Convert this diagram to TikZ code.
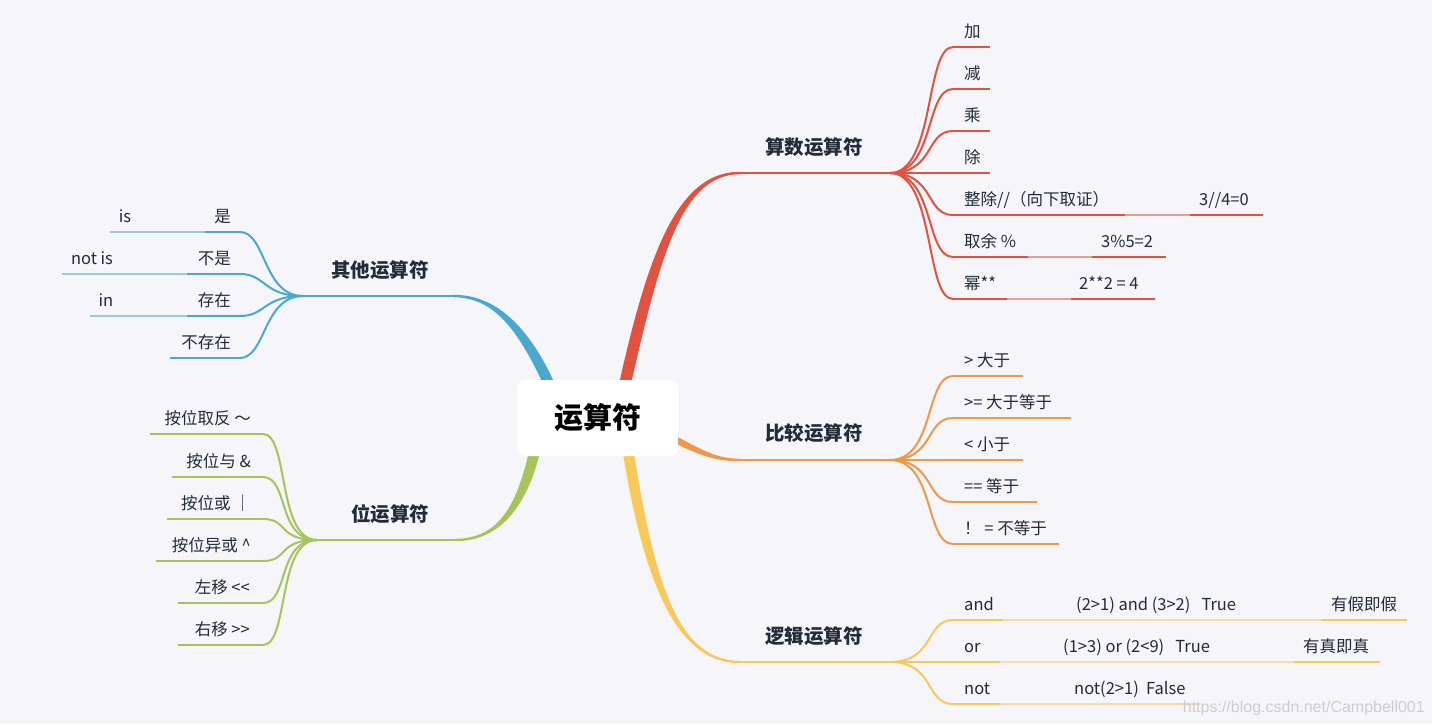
\documentclass[tikz,border=0pt]{standalone}
\usepackage{fontspec}
\setmainfont{Noto Sans CJK SC}
\newfontfamily\wmfont{Liberation Sans}
\definecolor{bg}{RGB}{245,245,250}
\definecolor{cred}{RGB}{226,82,65}
\definecolor{corange}{RGB}{239,153,72}
\definecolor{cyellow}{RGB}{247,201,91}
\definecolor{cblue}{RGB}{74,168,207}
\definecolor{cgreen}{RGB}{166,196,90}
\definecolor{ink}{RGB}{33,43,58}
\definecolor{wmgray}{RGB}{205,205,212}
% right-side child: #1 colour, #2 hub, #3 y of underline, #4 name, #5 end x, #6 text
\newcommand{\mmtwigR}[6]{%
  \coordinate (#4s) at (953,#3);
  \coordinate (#4e) at (#5,#3);
  \draw[#1,twig] (#2) .. controls +(45,0) and +(-28,0) .. (#4s);
  \draw[#1,uline] (#4s) -- (#4e);
  \node[leaf,anchor=base west] (#4t) at (964,#3-10) {#6};
}
% left-side child: #1 colour, #2 hub, #3 y, #4 name, #5 start x of line, #6 text, #7 curve end x, #8 text right x
\newcommand{\mmtwigL}[8]{%
  \coordinate (#4s) at (#7,#3);
  \coordinate (#4e) at (#5,#3);
  \draw[#1,twig] (#2) .. controls +(-40,0) and +(26,0) .. (#4s);
  \draw[#1,uline] (#4s) -- (#4e);
  \node[leaf,anchor=base east] (#4t) at (#8,#3-10) {#6};
}
\begin{document}
\begin{tikzpicture}[x=1pt,y=-1pt,
  leaf/.style={font=\fontsize{16.5}{19}\selectfont, text=ink, inner sep=0pt},
  branchlbl/.style={font=\bfseries\fontsize{19.5}{23}\selectfont, text=ink, inner sep=0pt, anchor=base},
  twig/.style={line width=2pt, line cap=round},
  uline/.style={line width=2.6pt},
  faint/.style={line width=1.8pt, draw opacity=0.55},
  trunk/.style={line width=2.4pt}]
\fill[bg] (0,0) rectangle (1432,724);
\useasboundingbox (0,0) rectangle (1432,724);

% hubs
\coordinate (rh) at (890,173);
\coordinate (oh) at (890,460);
\coordinate (yh) at (890,662);
\coordinate (bh) at (303,296);
\coordinate (gh) at (317,540);

% ---------- tapered trunks ----------
\fill[cred] (619,384) .. controls (649,249) and (679,171.6) .. (740,171.8) -- (740,174.2) .. controls (683,174.4) and (661,251) .. (631,384) -- cycle;
\coordinate (rt) at (740,173);
\draw[cred,trunk] (rt) -- (rh);

\fill[corange] (673.6,434.9) .. controls (701,449) and (715,458.6) .. (740,458.8) -- (740,461.2) .. controls (715,461.4) and (699,455) .. (670.4,441.1) -- cycle;
\coordinate (ot) at (740,460);
\draw[corange,trunk] (ot) -- (oh);

\fill[cyellow] (633.4,449.1) .. controls (655,589) and (680,660.6) .. (740,660.8) -- (740,663.2) .. controls (680,663.4) and (645,591) .. (622.6,450.9) -- cycle;
\coordinate (yt) at (740,662);
\draw[cyellow,trunk] (yt) -- (yh);

\fill[cblue] (555,384) .. controls (525,318) and (490,294.6) .. (453,294.8) -- (453,297.2) .. controls (490,297.4) and (515,322) .. (545,388) -- cycle;
\coordinate (bt) at (453,296);
\draw[cblue,trunk] (bt) -- (bh);

\fill[cgreen] (529.7,448.7) .. controls (517,504) and (500,538.6) .. (455,538.8) -- (455,541.2) .. controls (500,541.4) and (527,506) .. (540.3,451.3) -- cycle;
\coordinate (gt) at (455,540);
\draw[cgreen,trunk] (gt) -- (gh);

% ---------- root ----------
\node[fill=white, rounded corners=8pt, minimum width=161pt, minimum height=76pt, inner sep=0pt,
      font=\bfseries\fontsize{29}{34}\selectfont, text=black] (root) at (597.5,418) {运算符};

% ---------- branch labels ----------
\node[branchlbl] (lred) at (814,154) {算数运算符};
\node[branchlbl] (lorange) at (814,440) {比较运算符};
\node[branchlbl] (lyellow) at (814,643) {逻辑运算符};
\node[branchlbl] (lblue) at (380,277) {其他运算符};
\node[branchlbl] (lgreen) at (390,521) {位运算符};

% ---------- arithmetic ----------
\mmtwigR{cred}{rh}{47}{r1}{990}{加}
\mmtwigR{cred}{rh}{89}{r2}{990}{减}
\mmtwigR{cred}{rh}{131}{r3}{990}{乘}
\mmtwigR{cred}{rh}{173}{r4}{990}{除}
\mmtwigR{cred}{rh}{215}{r5}{1125}{整除//（向下取证）}
\mmtwigR{cred}{rh}{257}{r6}{1028}{取余 \%}
\mmtwigR{cred}{rh}{299}{r7}{1007}{幂**}
\coordinate (r5m) at (1190,215); \coordinate (r5f) at (1263,215);
\draw[cred,faint] (r5e) -- (r5m); \draw[cred,uline] (r5m) -- (r5f);
\node[leaf,anchor=base west] (r5x) at (1199,205) {3//4=0};
\coordinate (r6m) at (1092,257); \coordinate (r6f) at (1166,257);
\draw[cred,faint] (r6e) -- (r6m); \draw[cred,uline] (r6m) -- (r6f);
\node[leaf,anchor=base west] (r6x) at (1101,247) {3\%5=2};
\coordinate (r7m) at (1071,299); \coordinate (r7f) at (1155,299);
\draw[cred,faint] (r7e) -- (r7m); \draw[cred,uline] (r7m) -- (r7f);
\node[leaf,anchor=base west] (r7x) at (1079,289) {2**2 = 4};

% ---------- comparison ----------
\mmtwigR{corange}{oh}{376}{o1}{1023}{> 大于}
\mmtwigR{corange}{oh}{418}{o2}{1071}{>= 大于等于}
\mmtwigR{corange}{oh}{460}{o3}{1023}{< 小于}
\mmtwigR{corange}{oh}{502}{o4}{1037}{== 等于}
\mmtwigR{corange}{oh}{544}{o5}{1059}{！ = 不等于}

% ---------- logic ----------
\mmtwigR{cyellow}{yh}{620}{y1}{1003}{and}
\mmtwigR{cyellow}{yh}{662}{y2}{1000}{or}
\mmtwigR{cyellow}{yh}{704}{y3}{1000}{not}
\coordinate (y1m) at (1321,620); \coordinate (y1f) at (1407,620);
\draw[cyellow,faint] (y1e) -- (y1m); \draw[cyellow,uline] (y1m) -- (y1f);
\node[leaf,anchor=base west] (y1x) at (1076,610) {(2>1) and (3>2)\ \ \ True};
\node[leaf,anchor=base west] (y1y) at (1331,610) {有假即假};
\coordinate (y2m) at (1294,662); \coordinate (y2f) at (1380,662);
\draw[cyellow,faint] (y2e) -- (y2m); \draw[cyellow,uline] (y2m) -- (y2f);
\node[leaf,anchor=base west] (y2x) at (1063,652) {(1>3) or (2<9)\ \ \ True};
\node[leaf,anchor=base west] (y2y) at (1303,652) {有真即真};
\coordinate (y3m) at (1198,704);
\draw[cyellow,faint] (y3e) -- (y3m);
\node[leaf,anchor=base west] (y3x) at (1074,694) {not(2>1)\ \ False};

% ---------- other ----------
\mmtwigL{cblue}{bh}{232}{b1}{205}{是}{240}{231}
\mmtwigL{cblue}{bh}{274}{b2}{187}{不是}{240}{231}
\mmtwigL{cblue}{bh}{316}{b3}{187}{存在}{240}{231}
\mmtwigL{cblue}{bh}{358}{b4}{170}{不存在}{240}{231}
\coordinate (b1f) at (110,232); \draw[cblue,faint] (b1e) -- (b1f);
\coordinate (b2f) at (62,274); \draw[cblue,faint] (b2e) -- (b2f);
\coordinate (b3f) at (90,316); \draw[cblue,faint] (b3e) -- (b3f);
\node[leaf,anchor=base] (b1x) at (125,222) {is};
\node[leaf,anchor=base] (b2x) at (92,264) {not is};
\node[leaf,anchor=base] (b3x) at (106,306) {in};

% ---------- bitwise ----------
\mmtwigL{cgreen}{gh}{434}{g1}{150}{按位取反 ～}{263}{251}
\mmtwigL{cgreen}{gh}{477}{g2}{172}{按位与 \&}{263}{251}
\mmtwigL{cgreen}{gh}{519}{g3}{167}{按位或 ｜}{263}{251}
\mmtwigL{cgreen}{gh}{561}{g4}{156}{按位异或 \^{}}{263}{251}
\mmtwigL{cgreen}{gh}{603}{g5}{178}{左移 <{}<}{263}{250}
\mmtwigL{cgreen}{gh}{645}{g6}{178}{右移 >{}>}{263}{250}

% watermark
\node[font=\wmfont\fontsize{16}{18}\selectfont, text=wmgray, inner sep=0pt, anchor=base east] (wm) at (1425,712) {https://blog.csdn.net/Campbell001};
\end{tikzpicture}
\end{document}
